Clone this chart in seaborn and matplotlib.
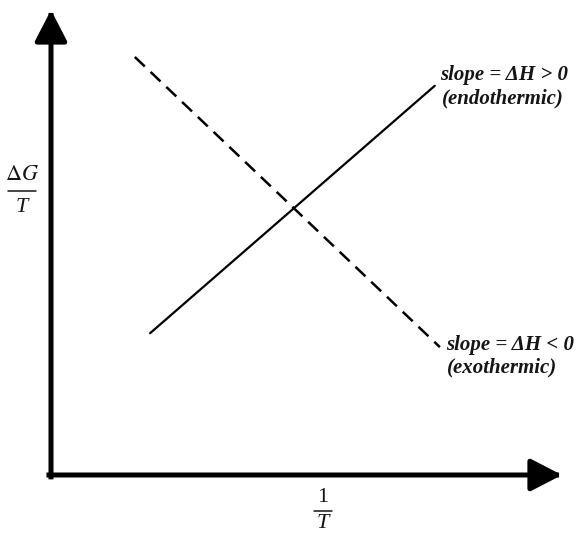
import matplotlib
matplotlib.use("Agg")
import matplotlib.pyplot as plt
from matplotlib.lines import Line2D
import seaborn as sns
import pandas as pd

sns.set_theme(style="white")
plt.rcParams["mathtext.fontset"] = "stix"
plt.rcParams["font.family"] = ["Liberation Serif", "DejaVu Serif"]

# Schematic values of ΔG/T against 1/T (arbitrary units, origin at the axes corner)
inv_T_endo = [0.194, 0.751]
dG_T_endo = [0.305, 0.837]
inv_T_exo = [0.164, 0.761]
dG_T_exo = [0.899, 0.275]

endo_labels = ["slope = ΔH > 0", "(endothermic)"]
exo_labels = ["slope = ΔH < 0", "(exothermic)"]
x_label = ("1", "T")
y_label = (r"$\Delta G$", "T")

W, H = 577, 533
fig = plt.figure(figsize=(W / 100, H / 100), dpi=100)
fig.patch.set_facecolor("white")

# Axes box: from the corner of the arrows to their tips (in pixels)
x0, y0, x1, y1 = 51, 475, 562, 10
ax = fig.add_axes([x0 / W, (H - y0) / H, (x1 - x0) / W, (y0 - y1) / H])
ax.set_xlim(0, 1)
ax.set_ylim(0, 1)
ax.axis("off")

endo = pd.DataFrame({"inv_T": inv_T_endo, "dG_T": dG_T_endo})
exo = pd.DataFrame({"inv_T": inv_T_exo, "dG_T": dG_T_exo})
sns.lineplot(data=endo, x="inv_T", y="dG_T", ax=ax, color="black", lw=1.6)
sns.lineplot(data=exo, x="inv_T", y="dG_T", ax=ax, color="black", lw=1.8)
ax.lines[-1].set_dashes((5.5, 3.2))

# Coordinate arrows
arrow_kw = dict(arrowstyle="-|>,head_length=1.2,head_width=0.62", lw=3.6,
                color="black", mutation_scale=16, shrinkA=0, shrinkB=0,
                capstyle="projecting")
ax.annotate("", xy=(0, 1), xytext=(0, -0.004), xycoords="axes fraction",
            arrowprops=arrow_kw, annotation_clip=False)
ax.annotate("", xy=(1, 0), xytext=(-0.004, 0), xycoords="axes fraction",
            arrowprops=arrow_kw, annotation_clip=False)


def px(x, y):
    return x / W, (H - y) / H


txt_kw = dict(fontsize=15, fontweight="bold", fontstyle="italic",
              ha="left", va="center", color="#151515")
fig.text(*px(440, 75), endo_labels[0], **txt_kw)
fig.text(*px(442, 98), endo_labels[1], **txt_kw)
fig.text(*px(446, 345), exo_labels[0], **txt_kw)
fig.text(*px(447, 367), exo_labels[1], **txt_kw)


def fraction(cx, num_y, bar_y, den_y, half_w, num, den, num_italic):
    fig.text(*px(cx, num_y), num, fontsize=16, ha="center", va="center",
             fontstyle="italic" if num_italic else "normal", color="#151515")
    fig.text(*px(cx, den_y), den, fontsize=16, ha="center", va="center",
             fontstyle="italic", color="#151515")
    xa, ya = px(cx - half_w, bar_y)
    xb, _ = px(cx + half_w, bar_y)
    fig.add_artist(Line2D([xa, xb], [ya, ya], transform=fig.transFigure,
                          color="#151515", lw=1.1))


fraction(22, 175, 191, 208, 14, y_label[0], y_label[1], False)
fraction(323, 498, 511, 524, 9, x_label[0], x_label[1], False)

fig.savefig("out.png", dpi=100, facecolor="white")
